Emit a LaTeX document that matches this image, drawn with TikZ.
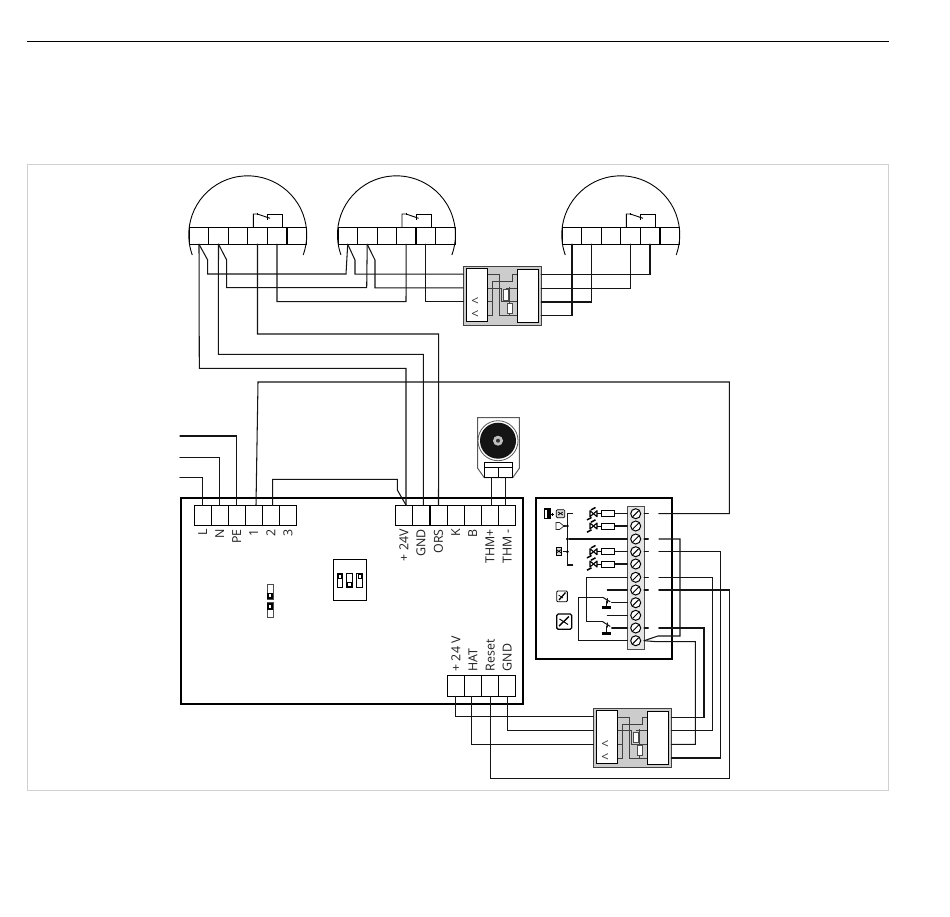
\documentclass[tikz,border=0pt]{standalone}
\usepackage{fontspec}
\setmainfont{Open Sans}
\tikzset{
 x=1pt,y=-1pt,
 wire/.style={line width=1.05pt,draw=black!92,line cap=round,line join=miter},
 bold wire/.style={line width=1.35pt,draw=black!92,line cap=round,line join=miter},
 inner wire/.style={line width=0.6pt,draw=black!75},
 cell/.style={draw=black,line width=0.75pt,rectangle,inner sep=0pt,outer sep=0pt,minimum height=#1},
 cell/.default=20pt,
 lab/.style={rotate=90,anchor=east,inner sep=0pt,font=\fontsize{12.4}{12.4}\selectfont,text=black!88},
 screw/.style={circle,draw=black,line width=1pt,minimum size=10pt,inner sep=0pt,fill=white},
 white panel/.style={draw=black,line width=1pt,fill=white,rectangle,inner sep=0pt,outer sep=0pt},
 dot/.style={circle,fill=black,inner sep=0pt,minimum size=3pt},
 led/.pic={
  \draw[line width=1.1pt,line join=round] (-7,-3)--(-7,3)--(-3.5,0)--cycle;
  \draw[line width=1.1pt,line join=round] (0,-3)--(0,3)--(-3.5,0)--cycle;
  \draw[line width=1.5pt] (-10,6.2)--(-5.5,3.8);
  \draw[line width=1.5pt] (-6,-3.8)--(-1.5,-6.2);
  \draw[line width=0.9pt] (0,0)--(4.7,0);
 },
}
\begin{document}
\begin{tikzpicture}
\useasboundingbox (0,0) rectangle (950,916);
\fill[white] (0,0) rectangle (950,916);
\coordinate (ruleL) at (27,41); \coordinate (ruleR) at (889,41);
\draw[line width=0.6pt,black] (ruleL)--(ruleR);
\draw[line width=0.5pt,black!18] (27,164.5) rectangle (888.5,790.5);

% ---------- sensors
\foreach \s/\dx in {1/0,2/148.7,3/373}{
\begin{scope}[xshift=\dx pt]
 \draw[line width=0.9pt] (192.3,255) arc[start angle=200,end angle=-20,radius=59pt];
 \foreach \c/\cx in {1/199,2/218.5,3/238,4/257.5,5/277,6/296.8}
  \node[cell=16.5pt,minimum width=19.6pt] (s\s c\c) at (\cx,236) {};
 \draw[line width=0.9pt] (253.3,227.5)--(253.3,214)--(257.3,214)--(270,218.3);
 \draw[line width=0.9pt] (257.3,212.5)--(257.3,215);
 \draw[line width=0.9pt] (267.3,219.5)--(267.3,214)--(282.7,214)--(282.7,227.5);
\end{scope}}
\draw[line width=1.3pt] (s1c5.south west) rectangle (s1c5.north east);
\draw[line width=1.3pt] (s2c5.south west) rectangle (s2c5.north east);

% ---------- converter boxes
\foreach \m/\dx/\dy in {b/0/0,c/130/442.4}{
\begin{scope}[xshift=\dx pt,yshift=-\dy pt]
 \node[draw=black!75,line width=1.2pt,fill=black!20,rectangle,inner sep=0pt,outer sep=0pt,minimum width=78pt,minimum height=59pt] (\m-box) at (502.3,295.8) {};
 \coordinate (\m-l1) at (463.3,274.2);
 \coordinate (\m-l2) at (463.3,287.9);
 \coordinate (\m-l3) at (463.3,301.9);
 \coordinate (\m-r1) at (541.3,274.7);
 \coordinate (\m-r2) at (541.3,288.3);
 \coordinate (\m-r3) at (541.3,302);
 \coordinate (\m-r4) at (541.3,315.6);
 \draw[inner wire] (487.7,274.7)--(499.3,274.7)--(499.3,315.7)--(517.3,315.7);
 \draw[inner wire] (487.7,288.3)--(501,288.3)--(501,301.7)--(517.3,301.7);
 \draw[inner wire] (487.7,315.7)--(492.7,315.7)--(492.7,281.7)--(512.7,281.7)--(512.7,274.7)--(517.3,274.7);
 \draw[inner wire] (487.7,301.7)--(493.3,301.7);
 \draw[inner wire] (505.7,288.3)--(517.3,288.3);
 \draw[inner wire] (509.7,287)--(509.7,316);
 \draw[line width=0.6pt,draw=black!70,fill=white] (503.3,289.5) rectangle (508.3,300);
 \draw[line width=0.6pt,draw=black!70,fill=white] (507.3,303.3) rectangle (512.7,313.3);
 \node[white panel,minimum width=21.4pt,minimum height=53pt] (\m-pl) at (477,294.8) {};
 \node[white panel,minimum width=21.4pt,minimum height=53pt] (\m-pr) at (528,295.8) {};
 \node[inner sep=0pt,font=\fontsize{13}{13}\selectfont,text=black!80] (\m-a1) at (475,302) {<};
 \node[inner sep=0pt,font=\fontsize{13}{13}\selectfont,text=black!80] (\m-a2) at (475,314.7) {<};
\end{scope}}

% ---------- main controller
\node[draw=black,line width=1.9pt,rectangle,inner sep=0pt,minimum width=342.3pt,minimum height=206pt] (main) at (352.2,601) {};
\foreach \n/\cx in {L/202.8,N/219.8,PE/236.8,one/253.8,two/270.8,three/288}
 \node[cell=20pt,minimum width=17pt,fill=white] (\n) at (\cx,515.3) {};
\foreach \n/\cx in {pv/403.8,gnd/421,ors/438.5,K/455.8,B/472.8,thp/490,thm/507.2}
 \node[cell=20pt,minimum width=17.2pt,fill=white] (\n) at (\cx,515.3) {};
\foreach \n/\cx in {hv/455.8,hat/473,rst/490.2,hg/507.2}
 \node[cell=21pt,minimum width=17.2pt,fill=white] (\n) at (\cx,685.8) {};

\foreach \n/\t in {L/L,N/N,PE/PE,one/1,two/2,three/3}
 \node[lab] (lb\n) at (\n.center |- 0,529) {\t};
\foreach \n/\t in {pv/+ 24V,gnd/GND,ors/ORS,K/K,B/B,thp/THM+,thm/THM -}
 \node[lab] (lb\n) at (\n.center |- 0,529) {\t};
\node[lab,anchor=west] (lbhv) at (455.8,671.5) {+ 24 V};
\node[lab,anchor=west] (lbhat) at (473,671.5) {HAT};
\node[lab,anchor=west] (lbrst) at (490.2,671.5) {Reset};
\node[lab,anchor=west] (lbhg) at (507.2,671.5) {GND};

% DIP switch and jumpers
\node[draw=black,line width=0.6pt,rectangle,inner sep=0pt,minimum width=33pt,minimum height=41pt] (dip) at (349.7,579.5) {};
\foreach \i/\cx in {1/339.7,2/349.5,3/359.5}
 \node[draw=black,line width=0.7pt,rectangle,inner sep=0pt,minimum width=5.6pt,minimum height=14.5pt] (sw\i) at (\cx,580.5) {};
\draw[line width=0.6pt,fill=white] (338,574.3) rectangle (341.4,578.6);
\draw[line width=0.6pt,fill=white] (358,574.3) rectangle (361,578.6);
\fill[black] (346.7,582) rectangle (352.3,588);
\fill[white] (348.4,583) rectangle (350.6,586);
\node[draw=black!70,line width=0.8pt,rectangle,inner sep=0pt,minimum width=6pt,minimum height=15pt] (jp1) at (270,591.5) {};
\node[draw=black!70,line width=0.8pt,rectangle,inner sep=0pt,minimum width=6pt,minimum height=15pt] (jp2) at (270,610.3) {};
\fill[black] (267,592.5) rectangle (273,599);
\fill[white] (269,594) rectangle (271,597);
\fill[black] (267,603) rectangle (273,609.5);
\fill[white] (269,605) rectangle (271,608);

% ---------- pump / motor
\draw[line width=1pt,draw=black!65,fill=white] (477.7,417.7)--(519.3,417.7)--(519.3,468.3)--(512.7,477.7)--(484.3,477.7)--(477.7,468.3)--cycle;
\node[circle,draw=black!65,line width=0.8pt,fill=white,minimum size=40pt,inner sep=0pt] (motor) at (498,440.7) {};
\fill[black!92] (motor) circle[radius=18pt];
\fill[black!25] (motor) circle[radius=5pt];
\fill[black!80] (motor) circle[radius=2pt];
\node[cell=5pt,minimum width=28.4pt,fill=white] (mtop) at (498.5,464.8) {};
\node[cell=10.4pt,minimum width=14.2pt,fill=white] (mtA) at (491.4,472.5) {};
\node[cell=10.4pt,minimum width=14.2pt,fill=white] (mtB) at (505.6,472.5) {};

% ---------- room unit
\node[draw=black,line width=1.9pt,rectangle,inner sep=0pt,minimum width=136.6pt,minimum height=161.3pt] (unit) at (604,578.3) {};
\node[draw=black!70,line width=0.8pt,fill=black!10,rectangle,inner sep=0pt,outer sep=0pt,minimum width=16.7pt,minimum height=143.3pt] (strip) at (635.7,577.7) {};
\foreach \i/\y in {1/513.7,2/526,3/539,4/551.7,5/564,6/577.3,7/590,8/602.7,9/615.3,10/628,11/640.7}{
 \node[screw] (t\i) at (635.7,\y) {};
 \draw[line width=1pt] ([shift={(-3,3)}]t\i.center)--([shift={(3,-3)}]t\i.center);
 \coordinate (g\i) at (658.8,0 |- t\i);
}
\foreach \i in {1,3,4,6,7,10}
 \draw[wire] (strip.east |- t\i) -- +(4.3,0);

% resistors and LEDs
\foreach \i in {1,2,4,5}{
 \node[draw=black,line width=0.8pt,fill=white,rectangle,inner sep=0pt,minimum width=13pt,minimum height=6pt] (rs\i) at (608.3,0 |- t\i) {};
 \draw[wire] (rs\i.east) -- (strip.west |- t\i);
 \pic at (597,0 |- t\i) {led};
}
% bus
\coordinate (busT) at (572.7,513.7); \coordinate (busB) at (572.7,565);
\draw[wire] (busT) -| (567.3,0 |- busB) -- (busB);
\foreach \i in {2,3,4}{
 \node[dot] (bd\i) at (567.3,0 |- t\i) {};
}
\draw[wire] (bd2) -- +(-4,0);
\draw[wire] (bd4) -- +(-4,0);
\draw[wire] (bd3) -- (strip.west |- t3);

% switches
\coordinate (sa) at (602.7,597.3); \coordinate (sb) at (602.7,621.7);
\draw[wire] (sa)--(610,601.7);
\draw[wire] (sb)--(610,626.3);
\draw[wire] (607.5,598.5)--(607.5,603);
\draw[wire] (607.5,622.8)--(607.5,627);
\draw[wire] (611.7,0 |- t8) -- (strip.west |- t8);
\draw[wire] (611.7,0 |- t10) -- (strip.west |- t10);
\draw[wire] (606.5,601)--(606.5,607);
\draw[wire] (606.5,626)--(606.5,633);
\draw[line width=2.2pt] (601.7,607.5)--(611,607.5);
\draw[line width=2.2pt] (601.7,633.5)--(611,633.5);
\draw[wire] (607.3,0 |- t7) -- (strip.west |- t7);
\draw[wire] (607.3,0 |- t9) -- (strip.west |- t9);
\draw[wire] (strip.west |- t6) -| (586.7,0 |- sb) -- (sb);
\draw[wire] (sa) -| (578.7,0 |- t11) -- (strip.west |- t11);

% icons
\fill[black] (543.5,508.3) rectangle (550.7,519.3);
\fill[white] (545,510) rectangle (547.3,517.6);
\draw[line width=0.7pt] (551.3,514)--(554.3,514) (552.8,512.5)--(552.8,515.5);
\draw[line width=0.7pt,rounded corners=1pt,fill=black!15] (556.3,509.7) rectangle (564.7,517.7);
\draw[line width=0.7pt] (558,512)--(563,515) (558,515)--(563,512);
\draw[line width=0.7pt,draw=black!85] (556,522.5)--(559.5,522.5)--(564,526)--(559.5,529.5)--(556,529.5)--cycle;
\draw[line width=0.7pt,fill=black!15] (556.3,547.3) rectangle (561.3,555.3);
\draw[line width=0.7pt] (556.3,549.5)--(561.3,553) (556.3,553)--(561.3,549.5);
\draw[line width=0.9pt,rounded corners=1pt] (556.7,591) rectangle (567.3,601.7);
\draw[line width=1.3pt] (559,600)--(565.5,592.5);
\draw[line width=0.7pt] (558.5,595)--(563,598);
\draw[line width=1.3pt,rounded corners=1.5pt] (556.7,614) rectangle (571.7,629.3);
\draw[line width=1.4pt] (559,626)--(569,616.5);
\draw[line width=1pt] (559.5,619)--(568,624.5);

% ---------- wiring
\draw[wire] (s1c1.south) -- (199.3,368.3) -| (406,505);
\draw[wire] (s1c1.south) -- (207.7,260) |- (346,274) -- (s2c1.south);
\draw[wire] (s1c2.south) -- (218.3,354.3) -| (423.3,505);
\draw[wire] (s1c2.south) -- (226.7,260) |- (366.7,287.7) -- (s2c2.south);
\draw[wire] (s1c4.south) |- (438.7,334) -- (ors.north);
\draw[wire] (s1c5.south) |- (406,301.7) -- (s2c4.south);
\draw[wire] (s2c1.south) -- (355,260) |- (b-l1);
\draw[wire] (s2c2.south) -- (375,260) |- (b-l2);
\draw[wire] (s2c5.south) |- (b-l3);
\draw[bold wire] (b-r1) -| (s3c5.south);
\draw[bold wire] (b-r2) -| (s3c4.south);
\draw[bold wire] (b-r3) -| (s3c2.south);
\draw[bold wire] (b-r4) -| (s3c1.south);

\coordinate (feedL) at (180,477.3);
\coordinate (feedN) at (180,457.3);
\coordinate (feedP) at (180,436);
\draw[wire] (feedL) -| (L.north);
\draw[wire] (feedN) -| (N.north);
\draw[wire] (feedP) -| (PE.north);
\draw[wire] ([xshift=2.2pt]one.north) -- (258,382) -| (729.3,0 |- g1) -- (g1);
\draw[wire] ([xshift=1.9pt]two.north) |- (397.3,479.3) -- (397.3,490) -- (406,505);
\draw[wire] (mtA.south) -- (mtA.south |- thp.north);
\draw[wire] (mtB.south) -- (mtB.south |- thm.north);

\draw[wire] (hv.south) |- (c-l1);
\draw[wire] ([xshift=-1.7pt]hat.south) |- (c-l3);
\draw[wire] (hg.south) |- (c-l2);
\draw[wire] (rst.south) |- (729.3,778.3) |- (g7);
\draw[wire] (c-r1) -| (704,0 |- g10) -- (g10);
\draw[wire] (c-r2) -| (712.7,0 |- g6) -- (g6);
\draw[wire] (c-r4) -| (720.7,0 |- g4) -- (g4);
\draw[wire] (strip.east |- t11) -- (658,636) -- (680,636) |- (g3);
\draw[wire] (strip.east |- t11) -- (657,641.7) -| (695.3,0 |- c-r3) -- (c-r3);
\end{tikzpicture}
\end{document}
